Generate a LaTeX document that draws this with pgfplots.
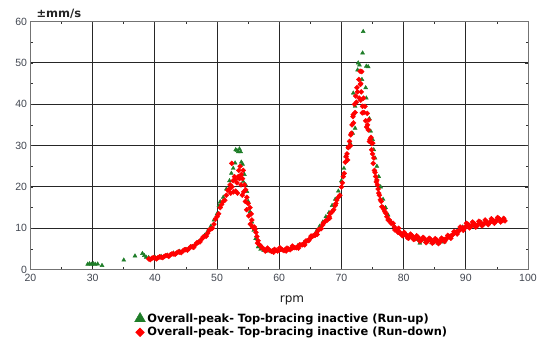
\documentclass[border=0pt]{standalone}
\usepackage{fontspec}
\setmainfont{DejaVu Sans}
\newfontfamily\tickfont{Liberation Sans}
\usepackage{pgfplots}
\pgfplotsset{compat=1.18}
\definecolor{rungreen}{RGB}{30,125,40}
\definecolor{rundown}{RGB}{255,0,0}
\definecolor{ticktxt}{RGB}{65,70,80}
\begin{document}
\begin{tikzpicture}
\begin{axis}[
  scale only axis, width=497.5pt, height=248pt,
  xmin=20, xmax=100, ymin=0, ymax=60,
  xtick={20,30,...,100}, ytick={0,10,...,60},
  minor x tick num=1, minor y tick num=1,
  grid=major,
  major grid style={black!85, line width=0.9pt},
  axis line style={black!55, line width=0.9pt},
  tick style={black!80, line width=0.8pt},
  major tick length=3pt, minor tick length=2.5pt,
  tick label style={font=\tickfont\fontsize{10.5}{12}\selectfont, text=ticktxt},
  xticklabel style={yshift=-1pt},
  /pgf/number format/assume math mode=true,
  legend style={at={(0.209,-0.172)}, anchor=north west, draw=none, fill=none,
    font=\bfseries\fontsize{11.4}{13}\selectfont, row sep=1.5pt, inner sep=0pt,
    nodes={inner xsep=2pt, inner ysep=1pt}},
  legend cell align=left,
]
\addplot[only marks, mark=triangle*, mark size=2.3pt, color=rungreen,
  legend image post style={mark size=6.2pt}] coordinates {
(29.2,1.3) (29.5,1.4) (29.8,1.3) (30.1,1.4) (30.4,1.3) (30.8,1.35) (31.5,1.0)
(35.0,2.3) (36.8,3.3) (38.0,3.9) (38.3,3.4) (38.6,3.0) (39.0,2.9) (40,3.0)
(41,3.2) (42,3.5) (43,4.0) (44,4.4) (45,4.9) (46,5.6) (47,6.7) (48,8.3)
(48.5,9.3) (49,10.5) (49.5,12) (50,13.5) (50.3,15.5) (50.5,16.4) (51,17.5)
(51.5,19.5) (52,21.5) (52.3,23.3) (52.6,24.5) (52.9,25.8) (53.0,29) (53.2,28.8)
(53.4,28.5) (53.6,29.2) (53.8,28.5) (53.9,26) (54.1,25.5) (54.2,21.3) (54.4,23)
(54.6,20.5) (54.8,18.9) (55.0,16.5) (55.3,14) (55.6,11.5) (55.9,9.5) (56.2,7.5)
(56.6,5.5) (57,4.9) (57.5,4.6) (58,4.5) (59,4.6) (60,4.7) (61,4.9) (62,5.2)
(63,5.8) (64,6.6) (65,7.8) (66,9.3) (66.5,10.5) (67,11.5) (67.5,12.8) (68,13.8)
(68.5,15.5) (69,17) (69.5,19) (70,21.5) (70.4,24.5) (70.7,27.5) (71.1,29.5)
(71.4,30.6) (71.8,33) (72.2,34.2) (72.2,39.5) (71.9,42.7) (72.6,48.3) (72.7,50)
(72.9,49.5) (73.4,52.4) (73.5,57.6) (73.3,46) (73.9,44) (74.0,41.5) (74.0,49.2)
(74.3,49.1) (74.5,36.5) (74.7,33.5) (75.0,31.5) (75.2,29) (75.4,27) (75.7,25)
(76.0,22.5) (76.3,20) (76.7,17) (77.1,15) (77.5,13.2) (78,11.5) (78.5,10.5)
(79,9.5) (79.5,8.8) (80,8.3) (81,7.8) (82,7.3) (82.6,6.4) (83.5,6.8) (84.5,6.5)
(85.5,6.4) (86.5,6.7) (87.5,7.8) (88.5,9.0) (89,9.9) (89.5,10.3) (90.5,10.8)
(91.5,10.6) (92.5,11.3) (93.5,11.1) (94,11.8) (95,12.2) (96,12.3)
};
\addlegendentry{Overall-peak- Top-bracing inactive (Run-up)}
\addplot[only marks, mark=square*, mark size=1.75pt, mark options={rotate=45}, color=rundown,
  legend image post style={mark size=3.1pt}] coordinates {
(39,2.6) (39.5,2.7) (40,2.8) (40.5,2.9) (41,3.0) (41.5,3.2) (42,3.4) (42.5,3.6)
(43,3.8) (43.5,4.0) (44,4.2) (44.5,4.5) (45,4.8) (45.5,5.1) (46,5.5) (46.5,6.0)
(47,6.6) (47.5,7.3) (48,8.0) (48.5,8.8) (49,9.8) (49.5,11.0) (50,12.8) (50.5,15.0)
(51,16.5) (51.5,18) (52,19.5) (52.2,18.5) (52.4,20) (52.6,21.5) (52.8,22.5)
(53.0,19) (53.2,21) (53.4,22.5) (53.5,24) (53.7,25) (53.9,23) (54.1,22) (54.2,24)
(54.4,20.5) (54.6,19.3) (54.8,17.5) (55.0,16) (55.3,15) (55.5,13.5) (55.6,12)
(55.8,10.2) (56.1,9.8) (56.4,8) (56.6,7) (57,5.8) (57.5,5.0) (58,4.7) (58.5,4.6)
(59,4.6) (59.5,4.7) (60,4.7) (60.5,4.8) (61,4.9) (61.5,5.0) (62,5.1) (62.5,5.3)
(63,5.6) (63.5,6.0) (64,6.4) (64.5,7.0) (65,7.6) (65.5,8.2) (66,8.9) (66.5,9.8)
(67,10.8) (67.5,11.8) (68,12.8) (68.5,14) (69,15.5) (69.5,17.5) (70,20) (70.3,22.5)
(70.6,26) (70.9,28) (71.1,29.5) (71.3,31) (71.5,32.6) (71.7,35) (71.9,37.5)
(72.1,40) (72.3,42) (72.5,44) (72.8,46) (73.0,48) (73.1,45) (73.2,43) (73.1,41)
(73.4,39.5) (73.6,38) (73.9,36) (74.2,35) (74.3,33.8) (74.6,31.5) (74.9,30.5)
(75.0,28) (75.1,25.7) (75.3,24) (75.5,22.5) (75.7,21.7) (75.9,19.5) (76.1,18)
(76.4,16.5) (76.7,15) (77,14) (77.3,12.8) (77.7,12) (78,11.2) (78.5,10.3) (79,9.5)
(79.5,8.9) (80,8.5) (80.5,8.2) (81,8.0) (81.5,7.9) (82,7.7) (82.5,7.5) (83,7.3)
(83.5,7.2) (84,7.1) (84.5,7.0) (85,6.9) (85.5,6.9) (86,7.0) (86.5,7.3) (87,7.7)
(87.5,8.1) (88,8.6) (88.5,9.1) (89,9.6) (89.5,10.1) (90,10.5) (90.5,10.7) (91,10.8)
(91.5,10.9) (92,11.0) (92.5,11.1) (93,11.2) (93.5,11.4) (94,11.6) (94.5,11.8)
(95,12.0) (95.5,12.1) (96,12.0) (96.3,11.8)
(39.25,2.4) (39.75,2.9) (40.25,2.6) (40.75,3.1) (41.25,2.9) (41.75,3.4) (42.25,3.2)
(42.75,3.8) (43.25,3.7) (43.75,4.3) (44.25,4.1) (44.75,4.8) (45.25,4.7) (45.75,5.5)
(46.25,5.4) (46.75,6.5) (47.25,6.7) (47.75,7.9) (48.25,8.1) (48.75,9.6) (49.25,10.0)
(49.75,12.2) (50.25,13.5) (50.75,15.8) (51.25,16.8) (51.75,19.2) (52.1,20.5)
(52.35,25.7) (52.65,18.8) (52.95,21.8) (53.3,18.5) (53.6,22) (53.85,20.5) (54.05,18)
(54.3,18.8) (54.55,16.5) (54.75,14.5) (55.1,13) (55.35,11) (55.7,10.4) (56.0,10.3)
(56.25,9.0) (56.5,6.4) (56.8,6.0) (57.25,5.2) (57.75,4.5) (58.25,4.9) (58.75,4.4)
(59.25,4.9) (59.75,4.5) (60.25,5.0) (60.75,4.6) (61.25,5.2) (61.75,4.8) (62.25,5.4)
(62.75,5.3) (63.25,6.0) (63.75,6.0) (64.25,6.9) (64.75,7.0) (65.25,8.1) (65.75,8.3)
(66.25,9.6) (66.75,9.9) (67.25,11.5) (67.75,12.0) (68.25,13.6) (68.75,14.5)
(69.25,16.8) (69.75,18.0) (70.15,21.0) (70.45,23.3) (70.75,27.3) (71.0,26.5)
(71.2,29.8) (71.45,30.0) (71.6,33.0) (71.85,37.0) (71.95,35.5) (72.2,38) (72.4,40.5)
(72.6,43) (72.85,41.5) (73.05,44.8) (73.25,47.9) (73.35,37.9) (73.55,41.5) (73.8,39.5)
(74.05,34.5) (74.15,37.8) (74.4,36.2) (74.5,31) (74.75,32.0) (74.85,29) (75.05,30.6)
(75.2,27) (75.4,23.5) (75.6,21.2) (75.8,20.5) (76.0,18.5) (76.25,16.9) (76.5,15.2)
(76.85,14.5) (77.15,13.6) (77.5,12.0) (77.85,11.6) (78.3,11.2) (78.6,9.6) (79.1,9.0)
(79.4,8.8) (79.8,8.2) (80.3,8.6) (80.8,7.6) (81.3,8.3) (81.8,7.4) (82.3,7.9) (82.8,7.0)
(83.3,7.6) (83.8,6.8) (84.3,7.4) (84.8,6.6) (85.3,7.2) (85.8,6.6) (86.3,7.3) (86.8,7.3)
(87.3,8.0) (87.8,8.3) (88.3,9.0) (88.8,9.2) (89.3,10.0) (89.8,10.0) (90.3,11.0)
(90.8,10.4) (91.3,11.2) (91.8,10.6) (92.3,11.5) (92.8,10.9) (93.3,11.6) (93.8,11.3)
(94.3,12.0) (94.8,11.6) (95.3,12.4) (95.8,11.8)
(58.1,5.2) (59.1,4.2) (60.1,5.3) (61.1,4.5) (62.1,5.7) (63.1,5.2) (64.1,6.0)
(65.1,8.1) (66.1,8.5) (67.1,11.2) (68.1,12.4) (69.1,16.0) (79.2,10.0) (80.1,9.0)
(80.6,7.7) (81.1,8.6) (81.6,7.3) (82.1,8.2) (82.6,6.9) (83.1,7.8) (83.6,6.5)
(84.1,7.6) (84.6,6.4) (85.1,7.5) (85.6,6.3) (86.1,7.6) (86.6,6.8) (87.1,8.3)
(87.6,7.6) (88.1,9.2) (88.6,8.6) (89.1,10.3) (89.6,9.5) (90.1,11.2) (90.6,10.1)
(91.1,11.5) (91.6,10.3) (92.1,11.7) (92.6,10.6) (93.1,12.0) (93.6,10.9) (94.1,12.3)
(94.6,11.2) (95.1,12.6) (95.6,11.5) (96.1,12.4)
};
\addlegendentry{Overall-peak- Top-bracing inactive (Run-down)}
\end{axis}
\node[anchor=base west, font=\bfseries\fontsize{11.5}{13}\selectfont, text=black!85] at (2.5pt,252pt) {±mm/s};
\node[anchor=base, font=\fontsize{12}{14}\selectfont, text=black!90] at (261.5pt,-33pt) {rpm};
\pgfresetboundingbox
\path[use as bounding box] (-30.5pt,-73.4pt) rectangle (516.5pt,269.6pt);
\end{tikzpicture}
\end{document}
